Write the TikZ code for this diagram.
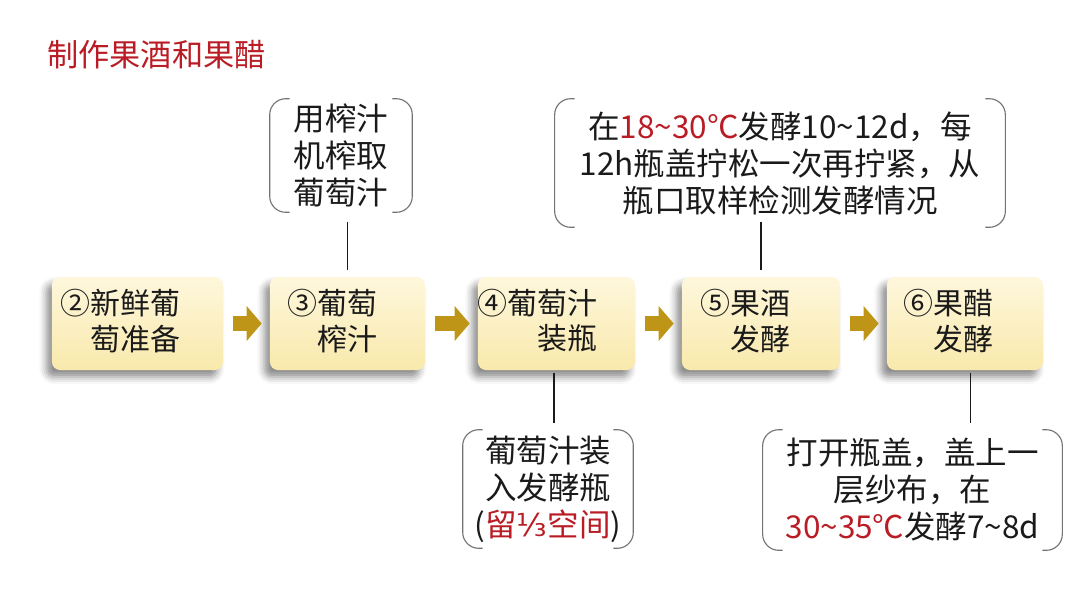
\documentclass[tikz,border=0pt]{standalone}
\usepackage{fontspec}
\setmainfont{Noto Sans CJK SC}
\newfontfamily\fracfont{DejaVu Sans}
\usetikzlibrary{arrows.meta,shadows.blur}
\definecolor{wred}{RGB}{185,28,36}
\definecolor{boxtop}{RGB}{254,247,220}
\definecolor{boxbot}{RGB}{249,233,172}
\definecolor{gold}{RGB}{190,149,22}
\definecolor{ink}{RGB}{26,26,26}
\tikzset{
  stepbox/.style={rounded corners=0.2cm, top color=boxtop, bottom color=boxbot,
    minimum height=2.325cm, inner sep=0pt,
    blur shadow={shadow xshift=-4pt, shadow yshift=-5pt, shadow blur radius=5pt, shadow opacity=45}},
  steptext/.style={anchor=east, align=right, inner sep=0pt, text=ink,
    font=\fontsize{21.3}{25}\selectfont},
  note/.style={align=center, inner sep=0pt, text=ink,
    font=\fontsize{22.4}{26.3}\selectfont},
  brk/.style={draw=black!55, line width=0.8pt, rounded corners=0.4cm},
  flow/.style={draw=gold, line width=10.7pt, -{Triangle[length=10.7pt,width=24.2pt]},
    shorten <=0.25cm, shorten >=0.2cm},
  link/.style={draw=ink, line width=1pt}
}
% rounded bracket pair round a note
\newcommand{\brackets}[1]{%
  \draw[brk] ([xshift=0.5cm]#1.north west) -- (#1.north west) -- (#1.south west) -- ([xshift=0.5cm]#1.south west);
  \draw[brk] ([xshift=-0.5cm]#1.north east) -- (#1.north east) -- (#1.south east) -- ([xshift=-0.5cm]#1.south east);}
\begin{document}
\begin{tikzpicture}[x=0.025cm,y=-0.025cm]
  \useasboundingbox (0,0) rectangle (1080,608);
  % Title
  \node[anchor=west, inner sep=0pt, text=wred, font=\fontsize{22.2}{26}\selectfont] (title) at (47,55) {制作果酒和果醋};
  % Step boxes
  \node[stepbox, minimum width=4.275cm] (s2) at (137.5,323.5) {};
  \node[stepbox, minimum width=3.875cm] (s3) at (347.5,323.5) {};
  \node[stepbox, minimum width=3.925cm] (s4) at (556.5,323.5) {};
  \node[stepbox, minimum width=3.95cm]  (s5) at (761,323.5) {};
  \node[stepbox, minimum width=3.9cm]   (s6) at (965,323.5) {};
  % Step texts
  \node[steptext] (t2) at (181,321) {②新鲜葡\\萄准备};
  \node[steptext] (t3) at (378,321) {③葡萄\\榨汁};
  \node[steptext] (t4) at (598,321) {④葡萄汁\\装瓶};
  \node[steptext] (t5) at (791,321) {⑤果酒\\发酵};
  \node[steptext] (t6) at (994,321) {⑥果醋\\发酵};
  % Arrows between steps
  \draw[flow] (s2) -- (s3);
  \draw[flow] (s3) -- (s4);
  \draw[flow] (s4) -- (s5);
  \draw[flow] (s5) -- (s6);
  % Notes above
  \node[note, minimum width=3.55cm, minimum height=2.825cm] (n3) at (341,155.5) {用榨汁\\机榨取\\葡萄汁};
  \node[note, minimum width=11.25cm, minimum height=3.2cm] (n5) at (780,163)
    {在\textcolor{wred}{18\textasciitilde30℃}发酵10\textasciitilde12d，每\\12h瓶盖拧松一次再拧紧，从\\瓶口取样检测发酵情况};
  % Notes below
  \node[note, minimum width=4.25cm, minimum height=2.95cm] (n4) at (548,489)
    {葡萄汁装\\入发酵瓶\\(\textcolor{wred}{留{\fracfont ⅓}空间})};
  \node[note, minimum width=7.475cm, minimum height=3cm] (n6) at (912.5,490)
    {打开瓶盖，盖上一\\层纱布，在\\\textcolor{wred}{30\textasciitilde35℃}发酵7\textasciitilde8d};
  \brackets{n3}
  \brackets{n5}
  \brackets{n4}
  \brackets{n6}
  % Links from steps to notes
  \draw[link, shorten <=0.175cm, shorten >=0.25cm] (s3.north) -- (s3.north |- n3.south);
  \draw[link, shorten <=0.175cm, shorten >=-0.125cm] (s5.north) -- (s5.north |- n5.south);
  \draw[link, shorten <=0.075cm, shorten >=0.175cm] ([xshift=-0.06cm]s4.south) -- ([xshift=-0.06cm]s4.south |- n4.north);
  \draw[link, shorten <=0.075cm, shorten >=0.175cm] ([xshift=0.14cm]s6.south) -- ([xshift=0.14cm]s6.south |- n6.north);
\end{tikzpicture}
\end{document}
